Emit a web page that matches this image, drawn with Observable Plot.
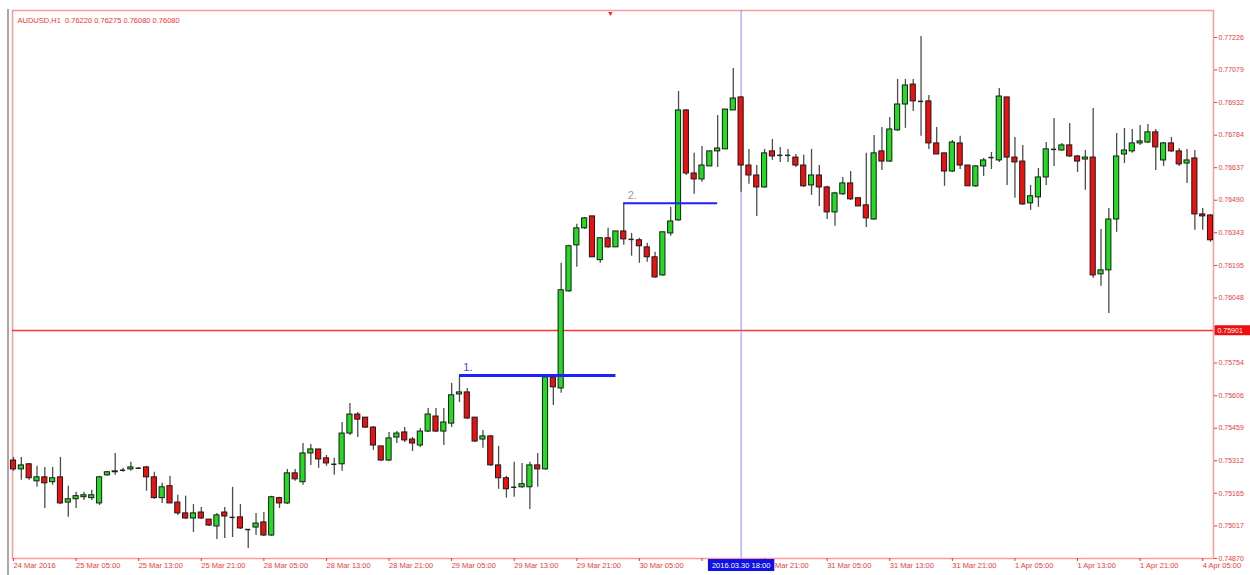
<!DOCTYPE html>
<html><head><meta charset="utf-8">
<script src="https://cdn.jsdelivr.net/npm/d3@7"></script>
<script src="https://cdn.jsdelivr.net/npm/@observablehq/plot@0.6"></script>
<style>
html,body{margin:0;padding:0;background:#fff;}
#wrap{position:relative;width:1250px;height:575px;overflow:hidden;}
#border{position:absolute;left:7px;top:9px;width:2px;height:566px;background:#a8a8a8;}
</style></head>
<body><div id="wrap"><div id="border"></div></div>
<script>
const title = "AUDUSD,H1  0.76220 0.76275 0.76080 0.76080";

const opens = [0.75313,0.75273,0.75296,0.75219,0.75237,0.75215,0.75237,0.75123,0.75138,0.75147,
0.75143,0.75119,0.75246,0.75260,0.75269,0.75273,0.75278,0.75282,0.75237,0.75143,
0.75197,0.75123,0.75074,0.75051,0.75078,0.75046,0.75015,0.75078,0.75056,0.75056,
0.75001,0.75010,0.75033,0.74974,0.75143,0.75119,0.75255,0.75215,0.75345,0.75363,
0.75323,0.75296,0.75296,0.75435,0.75521,0.75507,0.75462,0.75377,0.75313,0.75417,
0.75440,0.75408,0.75381,0.75444,0.75512,0.75444,0.75480,0.75612,0.75621,0.75507,
0.75408,0.75422,0.75291,0.75233,0.75192,0.75192,0.75192,0.75291,0.75273,0.75689,
0.75639,0.76078,0.76286,0.76363,0.76417,0.76219,0.76318,0.76277,0.76349,0.76313,
0.76309,0.76277,0.76232,0.76150,0.76340,0.76399,0.76896,0.76611,0.76584,0.76643,
0.76711,0.76720,0.76896,0.76955,0.76647,0.76602,0.76548,0.76711,0.76693,0.76693,
0.76683,0.76647,0.76557,0.76602,0.76548,0.76435,0.76517,0.76566,0.76499,0.76467,
0.76403,0.76711,0.76665,0.76806,0.76923,0.77013,0.76937,0.76937,0.76747,0.76702,
0.76620,0.76747,0.76647,0.76553,0.76643,0.76683,0.76670,0.76955,0.76683,0.76665,
0.76476,0.76503,0.76593,0.76720,0.76715,0.76738,0.76688,0.76674,0.76683,0.76155,
0.76173,0.76403,0.76697,0.76711,0.76747,0.76751,0.76797,0.76670,0.76747,0.76711,
0.76656,0.76679,0.76426,0.76421];
const highs = [0.75327,0.75327,0.75300,0.75287,0.75282,0.75282,0.75327,0.75197,0.75170,0.75170,
0.75179,0.75242,0.75264,0.75345,0.75278,0.75305,0.75282,0.75287,0.75260,0.75210,
0.75242,0.75156,0.75152,0.75114,0.75101,0.75046,0.75074,0.75101,0.75192,0.75114,
0.75001,0.75074,0.75078,0.75152,0.75147,0.75273,0.75273,0.75390,0.75386,0.75363,
0.75336,0.75323,0.75485,0.75571,0.75530,0.75507,0.75467,0.75377,0.75440,0.75444,
0.75462,0.75417,0.75458,0.75548,0.75548,0.75548,0.75662,0.75689,0.75639,0.75507,
0.75449,0.75426,0.75377,0.75242,0.75305,0.75300,0.75305,0.75345,0.75698,0.75689,
0.76205,0.76286,0.76381,0.76412,0.76417,0.76322,0.76363,0.76349,0.76476,0.76340,
0.76318,0.76295,0.76255,0.76345,0.76458,0.76982,0.76900,0.76702,0.76733,0.76711,
0.76873,0.76900,0.77086,0.76959,0.76720,0.76647,0.76720,0.76765,0.76729,0.76720,
0.76697,0.76693,0.76720,0.76647,0.76553,0.76526,0.76593,0.76620,0.76499,0.76702,
0.76783,0.76819,0.76864,0.77036,0.77036,0.77036,0.77230,0.76964,0.76819,0.76702,
0.76760,0.76779,0.76647,0.76647,0.76679,0.76706,0.76995,0.76955,0.76774,0.76738,
0.76557,0.76634,0.76751,0.76860,0.76747,0.76837,0.76693,0.76715,0.76905,0.76358,
0.76453,0.76792,0.76815,0.76810,0.76828,0.76833,0.76810,0.76751,0.76774,0.76724,
0.76720,0.76715,0.76453,0.76426];
const lows = [0.75264,0.75224,0.75224,0.75192,0.75096,0.75201,0.75114,0.75056,0.75096,0.75132,
0.75132,0.75110,0.75242,0.75246,0.75260,0.75264,0.75273,0.75174,0.75138,0.75119,
0.75119,0.75065,0.75046,0.74988,0.75046,0.75015,0.74956,0.74961,0.74965,0.75001,
0.74915,0.74974,0.74970,0.74970,0.75096,0.75114,0.75219,0.75201,0.75291,0.75278,
0.75287,0.75246,0.75264,0.75426,0.75417,0.75458,0.75359,0.75309,0.75309,0.75390,
0.75395,0.75354,0.75372,0.75440,0.75440,0.75381,0.75462,0.75575,0.75498,0.75395,
0.75368,0.75287,0.75183,0.75143,0.75147,0.75188,0.75092,0.75192,0.75269,0.75562,
0.75617,0.76074,0.76187,0.76358,0.76232,0.76205,0.76273,0.76277,0.76286,0.76237,
0.76205,0.76210,0.76137,0.76146,0.76327,0.76394,0.76602,0.76517,0.76571,0.76643,
0.76638,0.76720,0.76896,0.76526,0.76562,0.76417,0.76544,0.76670,0.76661,0.76661,
0.76638,0.76548,0.76512,0.76462,0.76403,0.76372,0.76512,0.76489,0.76462,0.76367,
0.76399,0.76625,0.76661,0.76801,0.76815,0.76891,0.76779,0.76720,0.76697,0.76553,
0.76616,0.76629,0.76553,0.76548,0.76598,0.76629,0.76661,0.76557,0.76499,0.76467,
0.76444,0.76458,0.76557,0.76643,0.76711,0.76683,0.76616,0.76535,0.76137,0.76101,
0.75978,0.76345,0.76656,0.76702,0.76738,0.76747,0.76625,0.76643,0.76706,0.76643,
0.76566,0.76354,0.76354,0.76300];
const closes = [0.75273,0.75291,0.75233,0.75237,0.75210,0.75233,0.75119,0.75138,0.75152,0.75156,
0.75156,0.75237,0.75260,0.75264,0.75269,0.75282,0.75278,0.75237,0.75143,0.75192,
0.75119,0.75074,0.75051,0.75074,0.75051,0.75019,0.75065,0.75060,0.75056,0.75006,
0.75001,0.75028,0.74974,0.75147,0.75119,0.75255,0.75228,0.75345,0.75363,0.75318,
0.75300,0.75296,0.75435,0.75521,0.75498,0.75462,0.75381,0.75313,0.75413,0.75435,
0.75404,0.75390,0.75444,0.75521,0.75444,0.75485,0.75608,0.75621,0.75503,0.75399,
0.75422,0.75291,0.75233,0.75183,0.75192,0.75206,0.75291,0.75273,0.75689,0.75644,
0.76083,0.76282,0.76363,0.76408,0.76232,0.76318,0.76277,0.76349,0.76313,0.76313,
0.76282,0.76232,0.76141,0.76345,0.76394,0.76896,0.76611,0.76584,0.76647,0.76711,
0.76724,0.76900,0.76950,0.76647,0.76602,0.76548,0.76702,0.76688,0.76693,0.76693,
0.76647,0.76553,0.76602,0.76548,0.76435,0.76521,0.76566,0.76494,0.76462,0.76408,
0.76702,0.76665,0.76810,0.76923,0.77009,0.76937,0.76937,0.76747,0.76697,0.76620,
0.76751,0.76647,0.76553,0.76643,0.76670,0.76683,0.76959,0.76683,0.76661,0.76471,
0.76508,0.76593,0.76720,0.76720,0.76738,0.76688,0.76665,0.76683,0.76150,0.76173,
0.76403,0.76688,0.76715,0.76747,0.76756,0.76797,0.76729,0.76747,0.76711,0.76652,
0.76670,0.76426,0.76417,0.76309];

// price axis tick labels
const yTicks = [0.74870,0.75017,0.75165,0.75312,0.75459,0.75606,0.75754,0.76048,0.76195,
  0.76343,0.76490,0.76637,0.76784,0.76932,0.77079,0.77226];
// time axis: bar index of each label and its text ("30 Mar 13:00" sits under the cursor box)
const xTickBars = [0,8,16,24,32,40,48,56,64,72,80,88,96,104,112,120,128,136,144,152];
const xLabels = ["24 Mar 2016","25 Mar 05:00","25 Mar 13:00","25 Mar 21:00","28 Mar 05:00",
  "28 Mar 13:00","28 Mar 21:00","29 Mar 05:00","29 Mar 13:00","29 Mar 21:00","30 Mar 05:00",
  "","30 Mar 21:00","31 Mar 05:00","31 Mar 13:00","31 Mar 21:00","1 Apr 05:00",
  "1 Apr 13:00","1 Apr 21:00","4 Apr 05:00"];

// horizontal support/resistance lines
const levelNames = ["1.","2."];
const levelPrices = [0.75698,0.76476];
const levelFrom = [57,78];
const levelTo = [77,90];
const levelWidths = [3,2];
const levelColors = ["#3a4fd8","#9a9a9a"];

// red horizontal line and vertical cursor line
const redLevel = 0.75901;
const priceLabel = "0.75901";
const cursorBar = 93;
const cursorLabel = "2016.03.30 18:00";
const topMarkerBar = 76.3;

const data = opens.map((o,i)=>({i, open:o, high:highs[i], low:lows[i], close:closes[i]}));
const levels = levelNames.map((n,k)=>({name:n, price:levelPrices[k], from:levelFrom[k], to:levelTo[k], w:levelWidths[k], c:levelColors[k]}));

const axisColor = "#f03a3a";
const chart = Plot.plot({
  width:1250, height:575,
  marginTop:10, marginBottom:17, marginLeft:12, marginRight:37,
  style:{fontFamily:"'Liberation Sans', Arial, sans-serif", background:"#fff", overflow:"visible"},
  x:{type:"linear", domain:[-0.13,153.38]},
  y:{type:"linear", domain:[0.74870,0.77348]},
  marks:[
    Plot.frame({stroke:"#ff9a9a", strokeWidth:1.5}),
    Plot.ruleY([redLevel], {stroke:"#ff3535", strokeWidth:1.5}),
    Plot.ruleX([cursorBar], {stroke:"#8c8cff", strokeWidth:1}),
    Plot.ruleX(data, {x:"i", y1:"low", y2:"high", stroke:"#4d4d4d", strokeWidth:1.3}),
    Plot.rect(data.filter(d=>d.open!==d.close), {
      x1:d=>d.i-0.33, x2:d=>d.i+0.33, y1:"open", y2:"close",
      fill:d=>d.close>d.open?"#22dc22":"#ec1010", stroke:"#1a1a1a", strokeWidth:1}),
    Plot.ruleY(data.filter(d=>d.open===d.close), {y:"open", x1:d=>d.i-0.33, x2:d=>d.i+0.33, stroke:"#222", strokeWidth:1.5}),
    Plot.ruleY(levels, {y:"price", x1:"from", x2:"to", stroke:"#1f1fff", strokeWidth:"w"}),
    Plot.text(levels, {x:d=>d.from+0.5, y:"price", text:"name", dy:-8, textAnchor:"start", fill:"c", fontSize:11}),
    Plot.axisY(yTicks, {anchor:"right", tickSize:3, tickPadding:2, fontSize:7, color:axisColor, tickFormat:d=>d.toFixed(5), label:null}),
    Plot.axisX(xTickBars, {anchor:"bottom", tickSize:3, tickPadding:1, fontSize:7.5, color:axisColor, textAnchor:"start", tickFormat:i=>xLabels[xTickBars.indexOf(i)], label:null}),
    Plot.text([title], {frameAnchor:"top-left", dx:5, dy:7, fill:"#ff3030", fontSize:7.5, textAnchor:"start"}),
    Plot.text([cursorLabel], {x:[cursorBar], frameAnchor:"bottom", dy:9, fill:"white", fontSize:7.5}),
    Plot.text([priceLabel], {y:[redLevel], frameAnchor:"right", dx:4, textAnchor:"start", fill:"white", fontSize:7}),
    Plot.text(["▼"], {x:[topMarkerBar], frameAnchor:"top", dy:1, fill:"#ff2020", fontSize:7})
  ]
});
document.getElementById("wrap").appendChild(chart);

// backgrounds for the axis boxes
d3.select(chart).selectAll("text").each(function(){
  const t = this.textContent;
  if (t === cursorLabel || t === priceLabel) {
    const b = this.getBBox();
    const r = document.createElementNS("http://www.w3.org/2000/svg","rect");
    const isPrice = t === priceLabel;
    r.setAttribute("x", b.x - (isPrice?3:4));
    r.setAttribute("y", b.y - 1.5);
    r.setAttribute("width", b.width + (isPrice?14:8));
    r.setAttribute("height", b.height + 3);
    r.setAttribute("fill", isPrice ? "#ee1010" : "#1010e8");
    const tr = this.getAttribute("transform");
    if (tr) r.setAttribute("transform", tr);
    this.parentNode.insertBefore(r, this);
  }
});
</script>
</body></html>
